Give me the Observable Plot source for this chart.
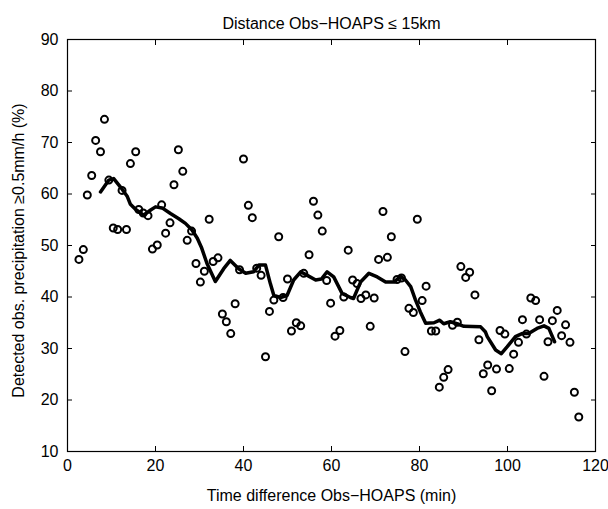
<!DOCTYPE html>
<html>
<head>
<meta charset="utf-8">
<script src="https://cdn.jsdelivr.net/npm/d3@7"></script>
<script src="https://cdn.jsdelivr.net/npm/@observablehq/plot@0.6"></script>
<style>
  html, body { margin: 0; padding: 0; background: #fff; }
  #chart svg { display: block; }
</style>
</head>
<body>
<div id="chart"></div>
<script>
// Observed points: time difference (min) and detected percentage (%)
const obsTime = [2.6,3.6,4.5,5.5,6.4,7.5,8.4,9.4,10.4,11.4,12.4,13.4,14.3,15.5,16.2,17.2,18.3,19.3,20.4,21.4,
  22.3,23.3,24.2,25.2,26.2,27.2,28.2,29.2,30.2,31.1,32.2,33.1,34.2,35.2,36.1,37.1,38.1,39.1,40.0,41.1,
  42.0,43.0,44.0,45.0,45.9,46.9,48.0,49.0,50.0,50.9,52.0,53.0,53.7,54.9,55.9,56.9,57.9,58.9,59.8,60.8,
  61.9,62.8,63.8,64.8,65.8,66.7,67.8,68.8,69.7,70.7,71.7,72.7,73.6,74.9,75.9,76.7,77.6,78.6,79.5,80.6,
  81.5,82.7,83.7,84.5,85.5,86.5,87.5,88.6,89.4,90.5,91.4,92.6,93.5,94.5,95.5,96.4,97.5,98.3,99.4,100.4,
  101.4,102.5,103.4,104.3,105.3,106.4,107.3,108.3,109.2,110.2,111.3,112.3,113.2,114.2,115.2,116.2];
const obsPct = [47.3,49.2,59.8,63.6,70.4,68.2,74.5,62.7,53.4,53.1,60.7,53.1,65.9,68.2,57.0,56.3,55.8,49.3,50.1,57.9,
  52.4,54.4,61.8,68.6,64.4,51.0,52.8,46.5,42.9,45.0,55.1,46.9,47.6,36.7,35.2,32.9,38.7,45.3,66.8,57.8,
  55.4,45.6,44.2,28.4,37.2,39.4,51.7,39.9,43.5,33.4,35.0,34.4,44.6,48.2,58.6,55.9,52.8,43.2,38.8,32.4,
  33.5,40.0,49.1,43.3,42.6,39.7,40.4,34.3,39.8,47.3,56.6,47.7,51.7,43.4,43.7,29.4,37.8,37.0,55.1,39.3,
  42.1,33.4,33.4,22.5,24.4,25.9,34.5,35.1,45.9,43.8,44.8,40.4,31.7,25.1,26.8,21.8,26.0,33.5,32.8,26.1,
  28.9,31.2,35.6,32.8,39.8,39.3,35.6,24.6,31.3,35.4,37.4,32.5,34.6,31.2,21.5,16.7];

// Smoothed curve
const smoothTime = [7.5,9.4,10.5,12.0,13.6,14.3,15.5,17.3,18.9,20.0,21.5,23.4,25.3,26.8,28.3,29.5,30.5,31.7,33.6,35.5,
  37.0,38.9,40.5,42.3,43.5,45.0,46.1,46.9,48.4,49.9,51.4,53.0,54.5,56.4,57.7,59.0,60.5,62.4,64.3,65.0,
  66.6,68.5,70.4,72.3,74.2,75.7,76.8,78.0,79.1,80.2,81.4,83.3,84.6,85.5,87.0,88.9,90.1,93.9,95.0,95.4,
  97.3,98.6,99.9,101.8,103.3,104.8,106.7,108.3,109.4,110.7];
const smoothPct = [60.4,62.7,63.0,61.4,59.5,58.0,57.0,55.9,56.9,57.5,57.3,56.2,55.2,54.3,53.0,51.4,49.5,46.5,43.0,45.5,
  47.1,45.5,44.6,44.9,46.2,46.2,42.6,40.3,39.9,40.3,43.3,44.9,44.2,43.3,43.5,44.9,43.9,40.7,39.9,39.7,
  42.9,44.6,43.9,42.9,42.9,44.0,43.3,42.0,39.4,37.1,34.9,35.0,35.5,34.8,35.2,34.7,34.3,34.2,33.2,32.3,
  29.7,29.0,30.3,32.3,32.9,32.9,33.9,34.4,33.9,31.3];

const xTicks = [0, 20, 40, 60, 80, 100, 120];
const yTicks = [10, 20, 30, 40, 50, 60, 70, 80, 90];

const titleText = "Distance Obs\u2212HOAPS \u2264 15km";
const xLabel = "Time difference Obs\u2212HOAPS (min)";
const yLabel = "Detected obs. precipitation \u22650.5mm/h (%)";

const points = obsTime.map((t, i) => ({t, p: obsPct[i]}));
const smooth = smoothTime.map((t, i) => ({t, p: smoothPct[i]}));

const font = "'Liberation Sans', Arial, Helvetica, sans-serif";

const chart = Plot.plot({
  width: 608,
  height: 509,
  marginLeft: 67,
  marginRight: 13,
  marginTop: 39,
  marginBottom: 58,
  style: {fontFamily: font, fontSize: "16px", color: "black", background: "white"},
  x: {domain: [0, 120], axis: null},
  y: {domain: [10, 90], axis: null},
  marks: [
    Plot.axisX(xTicks, {anchor: "bottom", tickSize: -5, tickPadding: 13, label: null, stroke: "black", strokeWidth: 1, fontSize: 16}),
    Plot.axisX(xTicks, {anchor: "top", tickSize: -5, tickFormat: () => "", label: null, stroke: "black", strokeWidth: 1}),
    Plot.axisY(yTicks, {anchor: "left", tickSize: -5, tickPadding: 14, label: null, stroke: "black", strokeWidth: 1, fontSize: 16}),
    Plot.axisY(yTicks, {anchor: "right", tickSize: -5, tickFormat: () => "", label: null, stroke: "black", strokeWidth: 1}),
    Plot.frame({stroke: "black", strokeWidth: 1.2}),
    Plot.dot(points, {x: "t", y: "p", r: 3.5, stroke: "black", strokeWidth: 2, fill: "none"}),
    Plot.line(smooth, {x: "t", y: "p", stroke: "black", strokeWidth: 3.5, strokeLinejoin: "round", strokeLinecap: "round"}),
    Plot.text([titleText], {frameAnchor: "top", dy: -16, fontSize: 16, fill: "black", lineAnchor: "middle", textAnchor: "middle"}),
    Plot.text([xLabel], {frameAnchor: "bottom", dy: 44, fontSize: 16, fill: "black", lineAnchor: "middle", textAnchor: "middle"}),
    Plot.text([yLabel], {frameAnchor: "left", dx: -49, dy: 5, rotate: -90, fontSize: 16, fill: "black", lineAnchor: "middle", textAnchor: "middle"})
  ]
});
document.getElementById("chart").appendChild(chart);
</script>
</body>
</html>
